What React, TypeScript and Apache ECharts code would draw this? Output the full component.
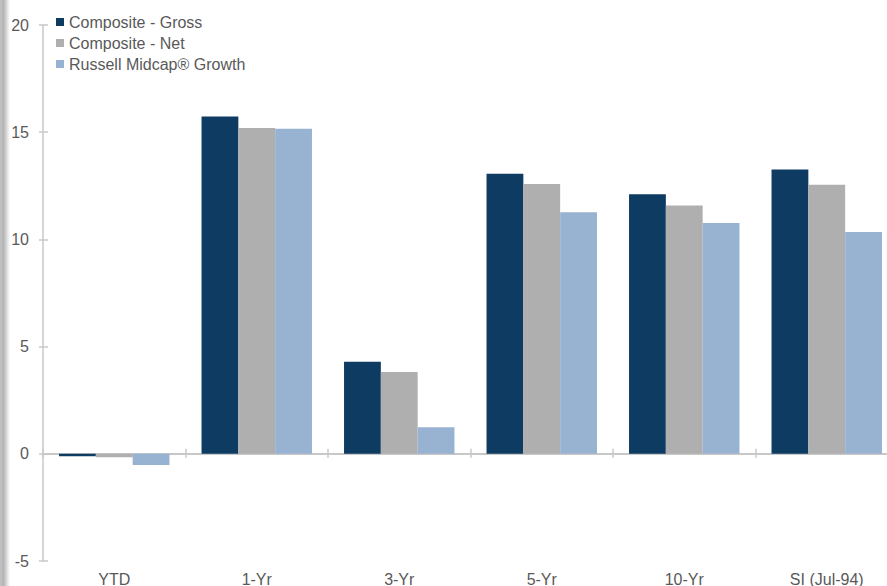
import React, { useEffect, useRef } from "react";
import * as echarts from "echarts";

const categories = ["YTD", "1-Yr", "3-Yr", "5-Yr", "10-Yr", "SI (Jul-94)"];
const seriesNames = ["Composite - Gross", "Composite - Net", "Russell Midcap® Growth"];
const grossValues = [-0.12, 15.73, 4.29, 13.06, 12.11, 13.26];
const netValues = [-0.16, 15.2, 3.82, 12.58, 11.58, 12.55];
const russellValues = [-0.52, 15.16, 1.24, 11.27, 10.77, 10.35];
const colors = ["#0E3B62", "#AFAFAF", "#98B2D1"];
const yMin = -5;
const yMax = 20;
const yInterval = 5;

export default function App() {
  const ref = useRef<HTMLDivElement>(null);
  useEffect(() => {
    if (!ref.current) return;
    const chart = echarts.init(ref.current, null, { renderer: "svg" });
    const font = "Liberation Sans, Arial, sans-serif";
    const axisColor = "#C8C8C8";
    const textColor = "#595959";
    const baseY = {
      type: "value" as const,
      min: yMin,
      max: yMax,
      interval: yInterval,
      splitLine: { show: false },
    };
    const baseX = {
      type: "category" as const,
      data: categories,
      boundaryGap: true,
    };
    chart.setOption({
      animation: false,
      backgroundColor: "#ffffff",
      grid: {
        left: 43,
        top: 25,
        width: 855,
        height: 536,
        containLabel: false,
        outerBoundsMode: "none",
      },
      legend: {
        data: seriesNames,
        orient: "vertical",
        left: 51,
        top: 9,
        itemWidth: 8,
        itemHeight: 8,
        itemGap: 5,
        icon: "rect",
        textStyle: { color: textColor, fontSize: 16, fontFamily: font, lineHeight: 16 },
      },
      graphic: [
        {
          type: "rect",
          left: 0,
          top: 0,
          shape: { width: 10, height: 586 },
          style: {
            fill: new echarts.graphic.LinearGradient(0, 0, 1, 0, [
              { offset: 0, color: "#c4c4c4" },
              { offset: 0.35, color: "#b4b4b4" },
              { offset: 1, color: "#ffffff" },
            ]),
          },
          silent: true,
        },
      ],
      xAxis: [
        {
          ...baseX,
          position: "bottom",
          axisLine: { show: false, onZero: false },
          axisTick: { show: false },
          axisLabel: { color: textColor, fontSize: 16, fontFamily: font, margin: 10 },
        },
        {
          ...baseX,
          position: "bottom",
          axisLine: { show: true, onZero: true, onZeroAxisIndex: 0, lineStyle: { color: axisColor, width: 2 } },
          axisTick: { show: true, inside: false, length: 4, lineStyle: { color: axisColor, width: 1.5 } },
          axisLabel: { show: false },
        },
        {
          ...baseX,
          position: "bottom",
          axisLine: { show: false, onZero: true, onZeroAxisIndex: 0 },
          axisTick: { show: true, inside: true, length: 5, lineStyle: { color: axisColor, width: 1.5 } },
          axisLabel: { show: false },
        },
      ],
      yAxis: [
        {
          ...baseY,
          position: "left",
          axisLine: { show: true, onZero: false, lineStyle: { color: axisColor, width: 1.5 } },
          axisTick: { show: true, inside: false, length: 4, lineStyle: { color: axisColor, width: 1.5 } },
          axisLabel: { color: textColor, fontSize: 16, fontFamily: font, margin: 14 },
        },
        {
          ...baseY,
          position: "left",
          axisLine: { show: false, onZero: false },
          axisTick: { show: true, inside: true, length: 5, lineStyle: { color: axisColor, width: 1.5 } },
          axisLabel: { show: false },
        },
      ],
      series: [
        { name: seriesNames[0], data: grossValues, color: colors[0] },
        { name: seriesNames[1], data: netValues, color: colors[1] },
        { name: seriesNames[2], data: russellValues, color: colors[2] },
      ].map((s) => ({
        ...s,
        type: "bar",
        xAxisIndex: 0,
        yAxisIndex: 0,
        barGap: "0%",
        barCategoryGap: "22.5%",
        itemStyle: { color: s.color },
      })),
    });
    return () => chart.dispose();
  }, []);
  return (
    <div
      ref={ref}
      style={{ position: "fixed", left: 0, top: 0, width: 887, height: 586, background: "#fff" }}
    />
  );
}
